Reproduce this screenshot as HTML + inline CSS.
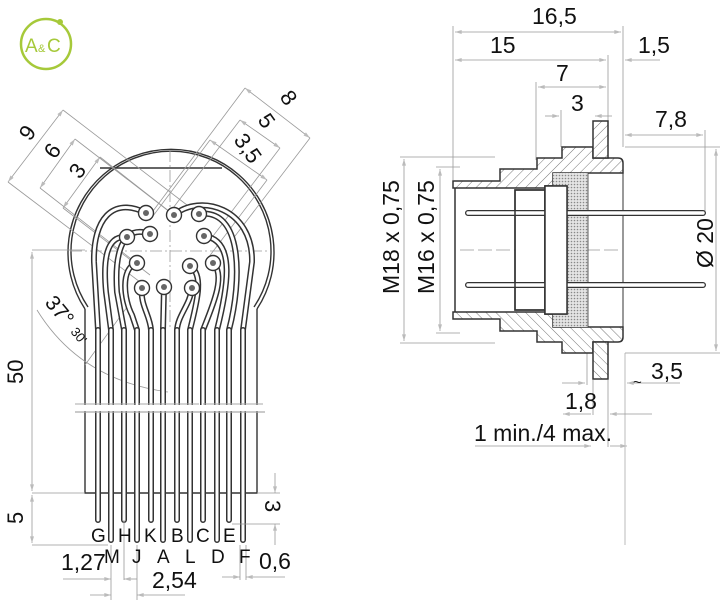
<!DOCTYPE html>
<html><head><meta charset="utf-8"><style>
html,body{margin:0;padding:0;background:#fff;}
svg{display:block;}
text{font-family:"Liberation Sans",sans-serif;fill:#111;}
</style></head><body>
<svg width="721" height="600" viewBox="0 0 721 600" xmlns="http://www.w3.org/2000/svg">
<defs>
<pattern id="h" width="7" height="7" patternUnits="userSpaceOnUse" patternTransform="rotate(45)">
<rect width="7" height="7" fill="#fff"/><line x1="0" y1="0" x2="0" y2="7" stroke="#777" stroke-width="1"/></pattern>
<pattern id="m" width="3" height="3" patternUnits="userSpaceOnUse">
<rect width="3" height="3" fill="#e4e4e4"/><circle cx="1.5" cy="1.5" r="0.8" fill="#888"/></pattern>
<marker id="a" viewBox="0 0 10 6" refX="10" refY="3" markerWidth="10" markerHeight="5" orient="auto-start-reverse"><path d="M0,0L10,3L0,6z" fill="#bbb"/></marker>
</defs>

<!-- logo -->
<circle cx="46" cy="44" r="25" fill="none" stroke="#a6c93a" stroke-width="2.5"/>
<circle cx="60" cy="22" r="3" fill="#a6c93a"/>
<text x="25" y="52" font-size="19" style="fill:#a6c93a">A</text>
<text x="38" y="52" font-size="11" style="fill:#a6c93a">&amp;</text>
<text x="47" y="52" font-size="19" style="fill:#a6c93a">C</text>

<!-- LEFT VIEW -->
<g fill="none" stroke="#333" stroke-width="1.4">
<path d="M85,309 A103,103 0 1 1 257,309"/>
<path d="M88,307 A100,100 0 1 1 254,307"/>
<path d="M85,309 L85,493 L257,493 L257,309"/>
<line x1="100" y1="168" x2="222" y2="168"/>
</g>
<!-- angled dims left -->
<g stroke="#999" stroke-width="0.8" fill="none">
<line x1="8" y1="182" x2="63" y2="110" marker-start="url(#a)" marker-end="url(#a)"/>
<line x1="40" y1="188" x2="75" y2="139" marker-start="url(#a)" marker-end="url(#a)"/>
<line x1="63" y1="208" x2="100" y2="157" marker-start="url(#a)" marker-end="url(#a)"/>
<line x1="8" y1="182" x2="140" y2="282"/>
<line x1="63" y1="110" x2="200" y2="215"/>
<line x1="40" y1="188" x2="135" y2="262"/>
<line x1="75" y1="139" x2="175" y2="216"/>
<line x1="63" y1="208" x2="150" y2="275"/>
<line x1="100" y1="157" x2="170" y2="212"/>
<line x1="245" y1="88" x2="310" y2="138" marker-start="url(#a)" marker-end="url(#a)"/>
<line x1="240" y1="120" x2="280" y2="148" marker-start="url(#a)" marker-end="url(#a)"/>
<line x1="210" y1="140" x2="267" y2="180" marker-start="url(#a)" marker-end="url(#a)"/>
<line x1="245" y1="88" x2="150" y2="215"/>
<line x1="310" y1="138" x2="232" y2="240"/>
<line x1="240" y1="120" x2="170" y2="212"/>
<line x1="280" y1="148" x2="210" y2="240"/>
<line x1="210" y1="140" x2="150" y2="220"/>
<line x1="267" y1="180" x2="205" y2="262"/>
<path d="M37,310 Q80,380 168,392" marker-end="url(#a)"/>
<line x1="85" y1="365" x2="130" y2="303"/>
<line x1="170" y1="150" x2="170" y2="330" stroke-dasharray="12,3,2,3"/>
<line x1="70" y1="251" x2="270" y2="251" stroke-dasharray="12,3,2,3"/>
</g>
<text font-size="22" transform="translate(30,142) rotate(-55)">9</text>
<text font-size="22" transform="translate(55,160) rotate(-55)">6</text>
<text font-size="22" transform="translate(80,180) rotate(-55)">3</text>
<text font-size="22" transform="translate(279,97) rotate(55)">8</text>
<text font-size="22" transform="translate(257,120) rotate(55)">5</text>
<text font-size="22" transform="translate(233,140) rotate(55)">3,5</text>
<text font-size="21" transform="translate(44,303) rotate(50)">37°</text>
<text font-size="13" transform="translate(70,332) rotate(50)">30'</text>

<!-- traces -->
<g fill="none" stroke-linecap="round">
<g stroke="#333" stroke-width="6">
<path d="M146,213 C112,196 93,220 94,262 L98,330"/>
<path d="M127,237 C106,235 103,260 106,292 L111,330"/>
<path d="M150,234 C124,224 114,250 117,292 L124,330"/>
<path d="M137,263 C120,268 124,300 132,315 L137,330"/>
<path d="M142,288 C140,305 150,315 151,330"/>
<path d="M164,287 L163,330"/>
<path d="M192,288 C190,305 178,315 177,330"/>
<path d="M190,266 C205,275 196,305 190,330"/>
<path d="M213,263 C226,275 213,305 203,330"/>
<path d="M204,236 C237,240 227,290 217,330"/>
<path d="M199,214 C243,208 242,280 229,330"/>
<path d="M174,215 C200,193 253,208 252,262 L243,330"/>
</g>
<g stroke="#fff" stroke-width="3">
<path d="M146,213 C112,196 93,220 94,262 L98,330"/>
<path d="M127,237 C106,235 103,260 106,292 L111,330"/>
<path d="M150,234 C124,224 114,250 117,292 L124,330"/>
<path d="M137,263 C120,268 124,300 132,315 L137,330"/>
<path d="M142,288 C140,305 150,315 151,330"/>
<path d="M164,287 L163,330"/>
<path d="M192,288 C190,305 178,315 177,330"/>
<path d="M190,266 C205,275 196,305 190,330"/>
<path d="M213,263 C226,275 213,305 203,330"/>
<path d="M204,236 C237,240 227,290 217,330"/>
<path d="M199,214 C243,208 242,280 229,330"/>
<path d="M174,215 C200,193 253,208 252,262 L243,330"/>
</g>
<g stroke="#333" stroke-width="6">
<path d="M98,330 V520 M111,330 V540 M124,330 V520 M137,330 V540 M151,330 V520 M163,330 V540 M177,330 V520 M190,330 V540 M203,330 V520 M217,330 V540 M229,330 V520 M243,330 V540"/>
</g>
<g stroke="#fff" stroke-width="3">
<path d="M98,330 V520 M111,330 V540 M124,330 V520 M137,330 V540 M151,330 V520 M163,330 V540 M177,330 V520 M190,330 V540 M203,330 V520 M217,330 V540 M229,330 V520 M243,330 V540"/>
</g>
</g>
<!-- holes -->
<g stroke="#333" stroke-width="1.4" fill="#fff">
<circle cx="146" cy="213" r="7.5"/><circle cx="174" cy="215" r="7.5"/><circle cx="199" cy="214" r="7.5"/>
<circle cx="127" cy="237" r="7.5"/><circle cx="150" cy="234" r="7.5"/><circle cx="204" cy="236" r="7.5"/>
<circle cx="137" cy="263" r="7.5"/><circle cx="190" cy="266" r="7.5"/><circle cx="213" cy="263" r="7.5"/>
<circle cx="142" cy="288" r="7.5"/><circle cx="164" cy="287" r="7.5"/><circle cx="192" cy="288" r="7.5"/>
</g>
<g fill="#666">
<circle cx="146" cy="213" r="3"/><circle cx="174" cy="215" r="3"/><circle cx="199" cy="214" r="3"/>
<circle cx="127" cy="237" r="3"/><circle cx="150" cy="234" r="3"/><circle cx="204" cy="236" r="3"/>
<circle cx="137" cy="263" r="3"/><circle cx="190" cy="266" r="3"/><circle cx="213" cy="263" r="3"/>
<circle cx="142" cy="288" r="3"/><circle cx="164" cy="287" r="3"/><circle cx="192" cy="288" r="3"/>
</g>
<!-- break -->
<rect x="76" y="405" width="190" height="6" fill="#fff"/>
<line x1="75" y1="404" x2="265" y2="404" stroke="#aaa" stroke-width="1" stroke-dasharray="60,4"/>
<line x1="75" y1="412" x2="265" y2="412" stroke="#aaa" stroke-width="1.2"/>

<!-- left dims -->
<g stroke="#999" stroke-width="0.8" fill="none">
<line x1="32" y1="250" x2="85" y2="250"/>
<line x1="32" y1="252" x2="32" y2="491" marker-start="url(#a)" marker-end="url(#a)"/>
<line x1="32" y1="493" x2="85" y2="493"/>
<line x1="32" y1="495" x2="32" y2="543" marker-start="url(#a)" marker-end="url(#a)"/>
<line x1="32" y1="545" x2="108" y2="545"/>
<line x1="257" y1="493" x2="280" y2="493"/>
<line x1="232" y1="524" x2="280" y2="524"/>
<line x1="275" y1="473" x2="275" y2="493" marker-end="url(#a)"/>
<line x1="275" y1="545" x2="275" y2="524" marker-end="url(#a)"/>
<line x1="111" y1="545" x2="111" y2="600"/>
<line x1="124" y1="520" x2="124" y2="580"/>
<line x1="137" y1="545" x2="137" y2="600"/>
<line x1="63" y1="579" x2="111" y2="579" marker-end="url(#a)"/>
<line x1="137" y1="579" x2="124" y2="579" marker-end="url(#a)"/>
<line x1="90" y1="595" x2="111" y2="595" marker-end="url(#a)"/>
<line x1="185" y1="595" x2="137" y2="595" marker-end="url(#a)"/>
<line x1="240" y1="545" x2="240" y2="580"/>
<line x1="246" y1="545" x2="246" y2="580"/>
<line x1="222" y1="577" x2="240" y2="577" marker-end="url(#a)"/>
<line x1="285" y1="577" x2="246" y2="577" marker-end="url(#a)"/>
</g>
<text font-size="22" transform="translate(23,384) rotate(-90)">50</text>
<text font-size="22" transform="translate(23,524) rotate(-90)">5</text>
<text font-size="22" transform="translate(265,500) rotate(90)">3</text>
<g font-size="19">
<text x="91" y="542">G</text><text x="118" y="542">H</text><text x="144" y="542">K</text>
<text x="171" y="542">B</text><text x="196" y="542">C</text><text x="223" y="542">E</text>
<text x="104" y="563">M</text><text x="132" y="563">J</text><text x="157" y="563">A</text>
<text x="185" y="563">L</text><text x="211" y="563">D</text><text x="239" y="563">F</text>
</g>
<text x="61" y="570" font-size="23">1,27</text>
<text x="152" y="588" font-size="23">2,54</text>
<text x="259" y="569" font-size="23">0,6</text>

<!-- RIGHT VIEW -->
<g stroke="#999" stroke-width="0.8" fill="none">
<line x1="453" y1="26" x2="453" y2="180"/>
<line x1="623" y1="26" x2="623" y2="147"/>
<line x1="608" y1="55" x2="608" y2="121"/>
<line x1="536" y1="82" x2="536" y2="160"/>
<line x1="561" y1="110" x2="561" y2="147"/>
<line x1="455" y1="32" x2="621" y2="32" marker-start="url(#a)" marker-end="url(#a)"/>
<line x1="455" y1="60" x2="606" y2="60" marker-start="url(#a)" marker-end="url(#a)"/>
<line x1="660" y1="60" x2="625" y2="60" marker-end="url(#a)"/>
<line x1="538" y1="87" x2="606" y2="87" marker-start="url(#a)" marker-end="url(#a)"/>
<line x1="545" y1="116" x2="559" y2="116" marker-end="url(#a)"/>
<line x1="612" y1="116" x2="595" y2="116" marker-end="url(#a)"/>
<line x1="625" y1="135" x2="703" y2="135" marker-start="url(#a)" marker-end="url(#a)"/>
<line x1="705" y1="130" x2="705" y2="213"/>
<line x1="625" y1="147" x2="720" y2="147"/>
<line x1="625" y1="353" x2="720" y2="353"/>
<line x1="716" y1="149" x2="716" y2="351" marker-start="url(#a)" marker-end="url(#a)"/>
<line x1="400" y1="157" x2="495" y2="157"/><line x1="400" y1="343" x2="495" y2="343"/>
<line x1="404" y1="159" x2="404" y2="341" marker-start="url(#a)" marker-end="url(#a)"/>
<line x1="436" y1="167" x2="460" y2="167"/><line x1="436" y1="333" x2="460" y2="333"/>
<line x1="440" y1="169" x2="440" y2="331" marker-start="url(#a)" marker-end="url(#a)"/>
<line x1="460" y1="250" x2="620" y2="250" stroke-dasharray="14,4"/>
<line x1="587" y1="350" x2="587" y2="385"/>
<line x1="593" y1="380" x2="593" y2="415"/>
<line x1="608" y1="380" x2="608" y2="447"/>
<line x1="625" y1="353" x2="625" y2="545" stroke="#aaa"/>
<line x1="562" y1="383" x2="585" y2="383" marker-end="url(#a)"/>
<line x1="680" y1="383" x2="627" y2="383" marker-end="url(#a)"/>
<line x1="563" y1="414" x2="591" y2="414" marker-start="url(#a)"/>
<line x1="652" y1="414" x2="610" y2="414" marker-end="url(#a)"/>
<line x1="475" y1="446" x2="591" y2="446" marker-end="url(#a)"/>
<line x1="627" y1="446" x2="610" y2="446" marker-start="url(#a)"/>
</g>
<text x="532" y="24" font-size="23">16,5</text>
<text x="490" y="53" font-size="23">15</text>
<text x="638" y="53" font-size="23">1,5</text>
<text x="556" y="81" font-size="23">7</text>
<text x="571" y="111" font-size="23">3</text>
<text x="655" y="127" font-size="23">7,8</text>
<text font-size="23" transform="translate(399,294) rotate(-90)">M18 x 0,75</text>
<text font-size="23" transform="translate(434,294) rotate(-90)">M16 x 0,75</text>
<text font-size="23" transform="translate(713,268) rotate(-90)">Ø 20</text>
<text x="651" y="379" font-size="23">3,5</text>
<text x="633" y="387" font-size="15">~</text>
<text x="565" y="409" font-size="23">1,8</text>
<text x="474" y="441" font-size="23">1 min./4 max.</text>

<!-- housing -->
<g stroke="#333" stroke-width="1.5">
<g id="up">
<path d="M453,181 L500,181 L500,169 L537,169 L537,158 L562,158 L562,147 L593,147 L593,158 L618,158 Q623,158 623,163 L623,173 L553,173 L553,186 L545,186 L545,188 L453,188 Z" fill="url(#h)"/>
<rect x="593" y="121" width="15" height="37" fill="url(#h)"/>
</g>
<use href="#up" transform="translate(0,500) scale(1,-1)"/>
<rect x="553" y="173" width="35" height="154" fill="url(#m)" stroke="none"/>
<line x1="588" y1="173" x2="588" y2="327" stroke-width="0.8"/>
<line x1="623" y1="173" x2="623" y2="327" stroke-width="1"/>
<line x1="455" y1="188" x2="455" y2="312"/>
<rect x="515" y="190" width="30" height="120" fill="#fff"/>
<rect x="545" y="186" width="22" height="128" fill="#fff"/>
</g>
<g stroke-linecap="round" fill="none">
<path d="M468,213 H703 M468,285 H703" stroke="#333" stroke-width="6"/>
<path d="M468,213 H703 M468,285 H703" stroke="#fff" stroke-width="3.4"/>
</g>
<rect x="515" y="190" width="30" height="120" fill="none" stroke="#333" stroke-width="1.5"/>
<rect x="545" y="186" width="22" height="128" fill="#fff" stroke="#333" stroke-width="1.5"/>
</svg>
</body></html>
